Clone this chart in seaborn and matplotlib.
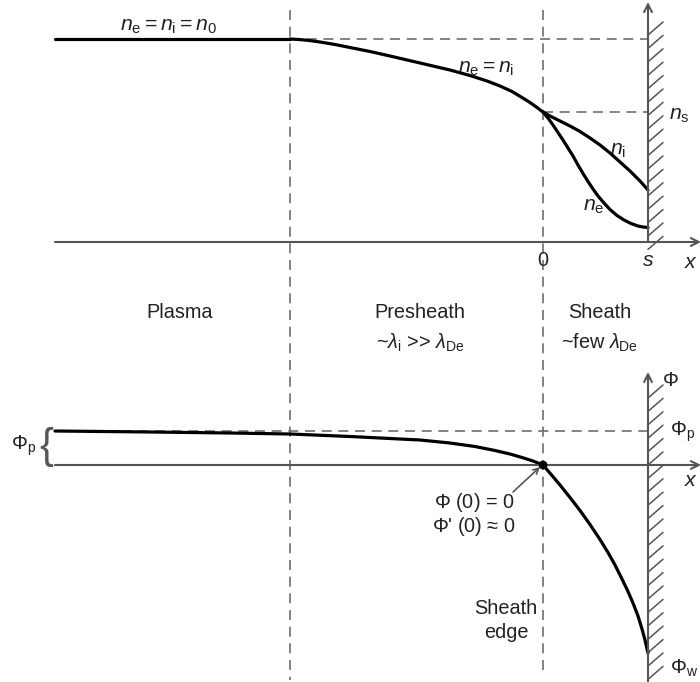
import numpy as np
import pandas as pd
import matplotlib
matplotlib.use("Agg")
import matplotlib.pyplot as plt
import seaborn as sns

# ---- data (drawing units: x right, y downward) ----
plasma_x = [55, 290]
plasma_n = [39, 39]
presheath_x = [290, 300, 310, 320, 335, 350, 370, 390, 405, 420, 450, 470, 487,
               500, 512, 522, 530, 537, 543]
presheath_n = [39, 39.6, 40.6, 42, 44.5, 47.5, 51.5, 56, 59.5, 63, 70, 75.5, 81,
               86, 91.5, 97.5, 102.5, 107.5, 112]
sheath_x_i = [543, 550, 560, 570, 580, 590, 600, 610, 620, 630, 640, 648]
sheath_ni = [112, 116, 121, 126, 131.5, 138, 145, 153, 162, 171, 181, 190]
sheath_x_e = [543, 548, 553, 558, 563, 568, 573, 578, 583, 588, 593, 598, 604,
              610, 617, 624, 631, 638, 643, 648]
sheath_ne = [112, 118, 125, 132.5, 140, 148, 156, 165, 173.5, 181.5, 189, 196,
             203, 209.5, 215.5, 220, 223.5, 226, 227, 227.5]
phi_x = [55, 150, 230, 290, 350, 420, 450, 475, 495, 510, 522, 533, 543, 552,
         560, 570, 580, 590, 600, 608, 615, 622, 628, 633, 638, 642, 645, 648]
phi_y = [431, 432, 433, 434, 436.5, 440, 443, 446.5, 450.5, 454, 457.5, 461, 465,
         475.5, 485, 497.5, 510.5, 524.5, 539.5, 552.5, 565, 579, 591.5, 603,
         616, 629, 640, 653]

x_plasma_edge = 290
x_sheath_edge = 543
x_wall = 648
y_n0 = 39
y_ns = 112
y_axis_top = 242
y_phip = 431
y_axis_bot = 465

region_labels = ["Plasma", "Presheath", "Sheath"]
region_sub = ["", r"~$\lambda_{\rm i}$ >> $\lambda_{\rm De}$", r"~few $\lambda_{\rm De}$"]

sns.set_theme(style="white")
plt.rcParams['font.family'] = ['Liberation Sans', 'DejaVu Sans']
plt.rcParams['mathtext.fontset'] = 'custom'
plt.rcParams['mathtext.rm'] = 'Liberation Sans'
plt.rcParams['mathtext.it'] = 'Liberation Sans:italic'
plt.rcParams['mathtext.bf'] = 'Liberation Sans:bold'

fig = plt.figure(figsize=(7.0, 6.82), dpi=100)
ax = fig.add_axes([0, 0, 1, 1])
ax.set_xlim(0, 700)
ax.set_ylim(682, 0)
ax.axis("off")

gray = "#6e6e6e"
dgray = "#555555"
dash_kw = dict(color=gray, lw=1.2, ls=(0, (6, 4)))

# dashed guides
ax.plot([x_plasma_edge, x_plasma_edge], [10, 680], **dash_kw)
ax.plot([x_sheath_edge, x_sheath_edge], [10, 672], **dash_kw)
ax.plot([x_plasma_edge, x_wall], [y_n0, y_n0], **dash_kw)
ax.plot([x_sheath_edge, x_wall], [y_ns, y_ns], **dash_kw)
ax.plot([55, x_wall], [y_phip, y_phip], **dash_kw)

# axes lines with arrows
arr = dict(arrowstyle="->", color=dgray, lw=1.5, mutation_scale=14, shrinkA=0, shrinkB=0)
ax.annotate("", xy=(701, y_axis_top), xytext=(55, y_axis_top), arrowprops=arr,
            annotation_clip=False)
ax.annotate("", xy=(701, y_axis_bot), xytext=(55, y_axis_bot), arrowprops=arr,
            annotation_clip=False)
ax.annotate("", xy=(x_wall, 2), xytext=(x_wall, y_axis_top), arrowprops=arr,
            annotation_clip=False)
ax.annotate("", xy=(x_wall, 372), xytext=(x_wall, 682), arrowprops=arr,
            annotation_clip=False)

# wall hatching
for y0 in np.arange(35, 256, 13.4):
    ax.plot([x_wall, x_wall + 15], [y0, y0 - 13], color=dgray, lw=1.1)
for y0 in np.arange(398, 690, 13.4):
    ax.plot([x_wall, x_wall + 15], [y0, y0 - 13], color=dgray, lw=1.1)

# curves
lw = 2.3
sns.lineplot(x=plasma_x, y=plasma_n, ax=ax, color="black", lw=lw, sort=False)
sns.lineplot(x=presheath_x, y=presheath_n, ax=ax, color="black", lw=lw, sort=False)
sns.lineplot(x=sheath_x_i, y=sheath_ni, ax=ax, color="black", lw=lw, sort=False)
sns.lineplot(x=sheath_x_e, y=sheath_ne, ax=ax, color="black", lw=lw, sort=False)
sns.lineplot(x=phi_x, y=phi_y, ax=ax, color="black", lw=lw, sort=False)
sns.scatterplot(x=[x_sheath_edge], y=[y_axis_bot], ax=ax, color="black", s=40,
                edgecolor="none", zorder=5)

fs = 14.3
nfs = 15.3
tc = "#222222"
ax.text(168, 26, r"$n_{\rm e} = n_{\rm i} = n_0$", fontsize=nfs, ha="center", va="center", color=tc)
ax.text(486, 68, r"$n_{\rm e} = n_{\rm i}$", fontsize=nfs, ha="center", va="center", color=tc)
ax.text(669, 115, r"$n_{\rm s}$", fontsize=nfs, ha="left", va="center", color=tc)
ax.text(618, 150, r"$n_{\rm i}$", fontsize=nfs, ha="center", va="center", color=tc)
ax.text(594, 207, r"$n_{\rm e}$", fontsize=nfs, ha="center", va="center", color=tc)
ax.text(x_sheath_edge, 260, "0", fontsize=fs, ha="center", va="center", color=tc)
ax.text(x_wall, 260, r"$s$", fontsize=nfs, ha="center", va="center", color=tc)
ax.text(684, 262, r"$x$", fontsize=nfs, ha="left", va="center", color=tc)

label_x = [180, 420, 600]
for lx, lab, sub in zip(label_x, region_labels, region_sub):
    ax.text(lx, 313, lab, fontsize=fs, ha="center", va="center", color=tc)
    if sub:
        ax.text(lx, 343, sub, fontsize=fs, ha="center", va="center", color=tc)

ax.text(662, 380, r"$\Phi$", fontsize=fs, ha="left", va="center", color=tc)
ax.text(670, 432, r"$\Phi_{\rm p}$", fontsize=fs, ha="left", va="center", color=tc)
ax.text(684, 481, r"$x$", fontsize=nfs, ha="left", va="center", color=tc)
ax.text(11, 446, r"$\Phi_{\rm p}$", fontsize=fs, ha="left", va="center", color=tc)
ax.text(46, 447, "{", fontsize=30, ha="center", va="center", color="#555555",
        fontweight="light")
ax.annotate("", xy=(540, 467), xytext=(513, 492),
            arrowprops=dict(arrowstyle="->", color=dgray, lw=1.2, mutation_scale=10,
                            shrinkA=0, shrinkB=0))
ax.text(474, 502, r"$\Phi$ (0) = 0", fontsize=fs, ha="center", va="center", color=tc)
ax.text(474, 527, r"$\Phi$' (0) ≈ 0", fontsize=fs, ha="center", va="center", color=tc)
ax.text(506, 608, "Sheath", fontsize=fs, ha="center", va="center", color=tc)
ax.text(506, 633, "edge", fontsize=fs, ha="center", va="center", color=tc)
ax.text(670, 668, r"$\Phi_{\rm w}$", fontsize=fs, ha="left", va="center", color=tc)

fig.savefig("out.png", dpi=100, facecolor="white")
